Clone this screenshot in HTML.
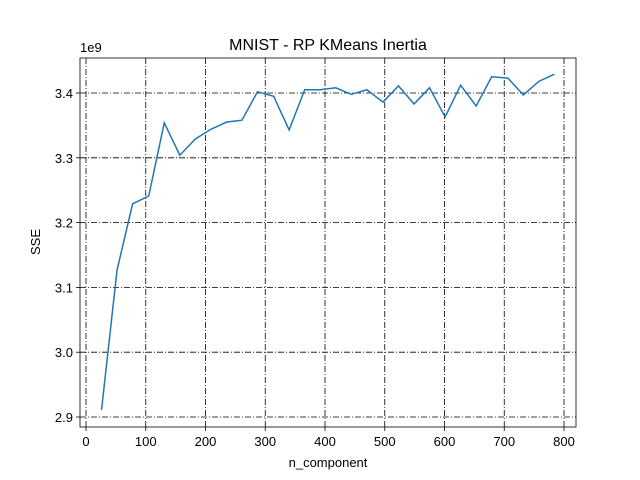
<!DOCTYPE html>
<html><head><meta charset="utf-8"><style>body{margin:0;background:#fff}svg{display:block;font-family:"Liberation Sans","DejaVu Sans",sans-serif}</style></head>
<body>
<svg id="chart" width="640" height="480" xmlns="http://www.w3.org/2000/svg">
<rect width="640" height="480" fill="#fff"/>
<text x="328" y="50" text-anchor="middle" font-size="16">MNIST - RP KMeans Inertia</text>
<text x="328" y="467" text-anchor="middle" font-size="13">n_component</text>
<text x="40" y="242" text-anchor="middle" font-size="13" transform="rotate(-90 40 242)">SSE</text>
<text x="80" y="52" font-size="13">1e9</text>
<g id="grid"></g><g id="ticks"></g>
<path id="line" fill="none" stroke="#1f77b4" stroke-width="1.5"/>
<rect x="80" y="58" width="496" height="369" fill="none" stroke="#000" stroke-width="0.8"/>
</svg>
<script>
const components=[26,52,78,105,131,157,183,209,235,261,287,314,340,366,392,418,444,470,497,523,549,575,601,627,653,679,706,732,758,784];
const sse=[2.911,3.127,3.229,3.241,3.354,3.304,3.329,3.344,3.355,3.358,3.402,3.395,3.343,3.405,3.405,3.408,3.398,3.405,3.386,3.411,3.383,3.408,3.363,3.412,3.380,3.425,3.423,3.397,3.418,3.429];
const xTicks=[0,100,200,300,400,500,600,700,800];
const yTicks=[2.9,3.0,3.1,3.2,3.3,3.4];
const X=v=>86+v*0.5975, Y=v=>93+(3.4-v)*648;
const NS="http://www.w3.org/2000/svg";
const g=document.getElementById('grid'), t=document.getElementById('ticks');
function mk(p,tag,a){const e=document.createElementNS(NS,tag);for(const k in a)e.setAttribute(k,a[k]);p.appendChild(e);return e;}
xTicks.forEach(v=>{const x=X(v);
 const l=mk(g,'line',{x1:x,x2:x,y1:58,y2:427,stroke:'#000','stroke-width':0.8,'stroke-dasharray':'6,2,1,2'});
 
 
 mk(t,'line',{x1:x,x2:x,y1:427,y2:431,stroke:'#000','stroke-width':0.8});
 const s=mk(t,'text',{x:x,y:446,'text-anchor':'middle','font-size':13});s.textContent=v;
 
 });
yTicks.forEach(v=>{const y=Y(v);
 const l=mk(g,'line',{x1:80,x2:576,y1:y,y2:y,stroke:'#000','stroke-width':0.8,'stroke-dasharray':'6,2,1,2'});
 
 
 mk(t,'line',{x1:76,x2:80,y1:y,y2:y,stroke:'#000','stroke-width':0.8});
 const s=mk(t,'text',{x:73,y:y+5,'text-anchor':'end','font-size':13});s.textContent=v.toFixed(1);
 
 });
document.getElementById('line').setAttribute('d',components.map((c,i)=>(i?'L':'M')+X(c)+','+Y(sse[i])).join(''));
</script>
</body></html>
